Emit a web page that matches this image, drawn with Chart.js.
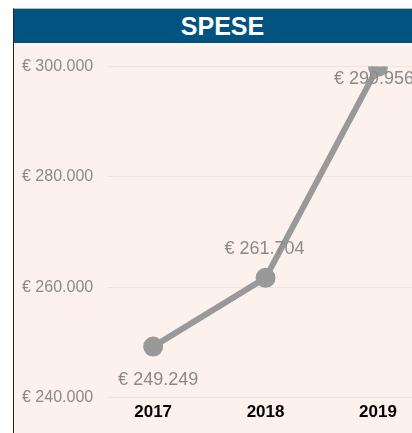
<!DOCTYPE html>
<html>
<head>
<meta charset="utf-8">
<script src="https://cdn.jsdelivr.net/npm/chart.js@4"></script>
<style>
  html, body { margin: 0; padding: 0; background: #fff; overflow: hidden; }
  .box {
    position: absolute; left: 13px; top: 8px; width: 417px; height: 440px;
    border-left: 1px solid #222; border-top: 1px solid #bbb;
    background: #fdf1ed;
  }
  .head {
    height: 34px; background: #02537f; color: #fff;
    font: bold 25px "Liberation Sans", Arial, sans-serif;
    text-align: center; line-height: 35px;
  }
  canvas { display: block; }
</style>
</head>
<body>
<div class="box">
  <div class="head">SPESE</div>
  <canvas id="speseChart" width="416" height="385"></canvas>
</div>
<script>
const anni = ["2017", "2018", "2019"];
const spese = [249249, 261704, 299956];
const yTicks = [240000, 260000, 280000, 300000];

// formato italiano: € 249.249
function euro(v) {
  return "€ " + Math.round(v).toString().replace(/\B(?=(\d{3})+(?!\d))/g, ".");
}

// etichette dei valori vicino ai punti
const valueLabels = {
  id: "valueLabels",
  afterDatasetsDraw(chart, args, opts) {
    const ctx = chart.ctx;
    const meta = chart.getDatasetMeta(0);
    ctx.save();
    ctx.font = "18px 'Liberation Sans', Arial, sans-serif";
    ctx.fillStyle = "#8a8a8a";
    ctx.textAlign = "center";
    ctx.textBaseline = "middle";
    meta.data.forEach((pt, i) => {
      const off = opts.offsets[i];
      ctx.fillText(euro(spese[i]), pt.x + off[0], pt.y + off[1]);
    });
    ctx.restore();
  }
};

const ctx = document.getElementById("speseChart").getContext("2d");
new Chart(ctx, {
  type: "line",
  data: {
    datasets: [{
      data: anni.map((a, i) => ({ x: Number(a), y: spese[i] })),
      borderColor: "#999999",
      backgroundColor: "#999999",
      borderWidth: 6,
      pointRadius: 7,
      pointHoverRadius: 7,
      tension: 0
    }]
  },
  options: {
    responsive: false,
    animation: false,
    layout: { padding: { left: 8, top: 13.4, right: 0, bottom: 0 } },
    plugins: {
      legend: { display: false },
      tooltip: { enabled: false },
      valueLabels: { offsets: [[5, 33], [-1, -29], [-4, 12]] }
    },
    scales: {
      x: {
        type: "linear",
        min: 2016.591,
        max: 2019.347,
        grid: { display: false, drawTicks: false },
        border: { display: false },
        afterBuildTicks: s => { s.ticks = anni.map(a => ({ value: Number(a) })); },
        ticks: {
          padding: 5,
          color: "#000",
          font: { family: "'Liberation Sans', Arial, sans-serif", size: 17, weight: "bold" },
          callback: v => String(v)
        }
      },
      y: {
        min: 240000,
        max: 300000,
        afterBuildTicks: s => { s.ticks = yTicks.map(v => ({ value: v })); },
        // asse stretto: etichette + 14px di distanza dalla griglia
        afterFit: s => { s.width -= 14; },
        grid: { color: "#eee5e2", drawTicks: false },
        border: { display: false },
        ticks: {
          padding: 14,
          color: "#8a8a8a",
          font: { family: "'Liberation Sans', Arial, sans-serif", size: 16 },
          callback: v => euro(v)
        }
      }
    }
  },
  plugins: [valueLabels]
});
</script>
</body>
</html>
